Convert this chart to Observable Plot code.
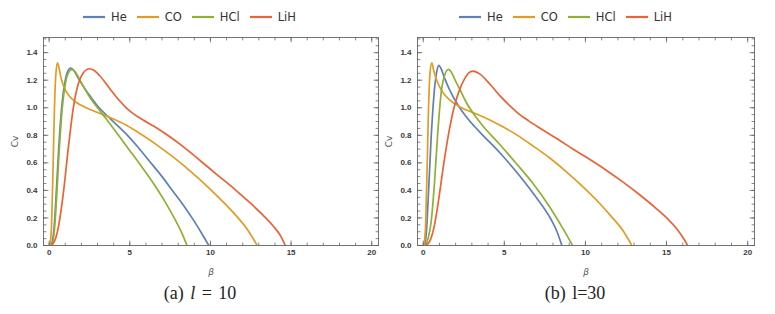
<!DOCTYPE html>
<html><head><meta charset="utf-8">
<script src="https://cdn.jsdelivr.net/npm/d3@7"></script>
<script src="https://cdn.jsdelivr.net/npm/@observablehq/plot@0.6"></script>
<style>
body{margin:0;background:#fff;}
#fig{position:relative;width:775px;height:314px;overflow:hidden;background:#fff;}
.panel{position:absolute;top:30px;}
.legend{position:absolute;top:9px;display:flex;align-items:center;font-family:"DejaVu Sans";font-size:11.5px;color:#333;line-height:16px;}
.legend .item{display:flex;align-items:center;margin-right:10px;}
.legend svg{margin-right:6px;}
.caption{position:absolute;top:283px;font-family:"Liberation Serif";font-size:18px;color:#222;transform:translateX(-50%);white-space:nowrap;word-spacing:2px;}
g[aria-label="x-axis label"] text{font-style:italic;font-size:9px;fill:#555;font-weight:normal;font-family:"DejaVu Sans";}
g[aria-label="y-axis label"] text{font-size:9px;fill:#555;font-weight:normal;font-family:"DejaVu Sans";}
</style></head>
<body><div id="fig"></div>
<script>
// ---- data ----
const series = ["He", "CO", "HCl", "LiH"];
const colors = ["#5E81B5", "#E19C24", "#8FB032", "#EB6235"];
const captions = [["(a) ", "l", " = 10"], ["(b) ", "", "l=30"]];

// panel (a) l = 10 : [beta, Cv]
const he10 = [[0.15,0],[0.3,0.12],[0.45,0.4],[0.6,0.72],[0.8,1.03],[1.0,1.2],[1.15,1.265],[1.33,1.287],[1.5,1.275],[1.8,1.215],[2.2,1.14],[2.6,1.075],[3.1,1.0],[3.75,0.925],[4.76,0.812],[5.5,0.715],[6.2,0.615],[7.0,0.5],[7.7,0.39],[8.4,0.28],[9.0,0.175],[9.5,0.08],[9.9,0]];
const co10 = [[0.05,0],[0.15,0.15],[0.25,0.6],[0.33,1.0],[0.42,1.25],[0.52,1.326],[0.62,1.285],[0.73,1.22],[0.94,1.145],[1.25,1.085],[1.67,1.04],[2.29,1.0],[3.02,0.965],[3.75,0.93],[4.79,0.873],[5.8,0.80],[6.8,0.72],[7.8,0.632],[8.8,0.535],[9.8,0.43],[10.8,0.315],[11.6,0.215],[12.3,0.115],[12.6,0.06],[12.9,0]];
const hcl10 = [[0.15,0],[0.3,0.08],[0.45,0.32],[0.6,0.64],[0.8,0.98],[1.0,1.17],[1.2,1.255],[1.42,1.278],[1.6,1.262],[2.0,1.18],[2.5,1.08],[3.0,1.0],[3.5,0.925],[4.0,0.848],[4.9,0.705],[5.75,0.57],[6.5,0.445],[7.2,0.315],[7.8,0.19],[8.25,0.085],[8.55,0]];
const lih10 = [[0.15,0],[0.4,0.05],[0.6,0.15],[0.88,0.38],[1.2,0.72],[1.5,1.0],[1.8,1.17],[2.1,1.25],[2.5,1.283],[2.8,1.27],[3.125,1.234],[3.75,1.14],[4.3,1.06],[4.8,0.998],[5.3,0.95],[5.8,0.913],[6.5,0.865],[7.35,0.80],[8.33,0.716],[9.43,0.61],[10.4,0.515],[11.49,0.41],[12.5,0.305],[13.3,0.215],[13.9,0.14],[14.35,0.07],[14.64,0]];

// panel (b) l = 30 : [beta, Cv]
const he30 = [[0.1,0],[0.2,0.1],[0.29,0.29],[0.49,0.78],[0.7,1.14],[0.85,1.27],[0.97,1.307],[1.1,1.285],[1.32,1.215],[1.63,1.13],[2.14,1.02],[2.65,0.935],[3.2,0.86],[3.68,0.80],[4.71,0.675],[5.74,0.535],[6.8,0.375],[7.9,0.185],[8.25,0.1],[8.55,0]];
const co30 = [[0.05,0],[0.15,0.15],[0.25,0.6],[0.33,1.0],[0.42,1.25],[0.53,1.326],[0.65,1.27],[0.8,1.21],[1.11,1.13],[1.63,1.058],[2.24,1.008],[3.07,0.965],[3.68,0.935],[4.71,0.875],[5.74,0.805],[6.8,0.72],[7.8,0.635],[8.83,0.535],[9.9,0.42],[10.88,0.305],[11.6,0.21],[12.3,0.11],[12.86,0]];
const hcl30 = [[0.15,0],[0.3,0.05],[0.49,0.17],[0.7,0.46],[0.9,0.82],[1.11,1.11],[1.32,1.234],[1.56,1.278],[1.75,1.255],[1.93,1.21],[2.24,1.138],[2.65,1.04],[3.17,0.945],[3.68,0.868],[4.71,0.735],[5.74,0.595],[6.77,0.45],[7.8,0.28],[8.4,0.165],[8.85,0.075],[9.2,0]];
const lih30 = [[0.15,0],[0.4,0.03],[0.7,0.15],[0.95,0.33],[1.25,0.58],[1.55,0.8],[1.9,1.0],[2.24,1.13],[2.55,1.21],[2.86,1.258],[3.07,1.266],[3.48,1.246],[4.09,1.174],[4.71,1.09],[5.33,1.015],[5.8,0.965],[6.5,0.905],[7.18,0.853],[8.21,0.778],[9.3,0.695],[10.3,0.622],[11.3,0.545],[12.3,0.462],[13.3,0.372],[14.3,0.275],[15.1,0.19],[15.6,0.125],[16.0,0.06],[16.3,0]];

const xMajor = [0, 5, 10, 15, 20];
const yMajor = [0, 0.2, 0.4, 0.6, 0.8, 1.0, 1.2, 1.4];
const xMinor = d3.range(0, 21, 1);
const yMinor = d3.range(0, 31, 1).map(i => i * 0.05);
const xDomain = [-0.35, 20.42];
const yDomain = [0, 1.51];

// ---- build ----
const frameColor = "#666";
const tickShape = {draw(ctx, l) { ctx.moveTo(0, 0); ctx.lineTo(0, -l); }};
const tk = {shape: tickShape, anchor: "start", stroke: frameColor, strokeWidth: 0.8};

function table(sets) {
  return sets.flatMap((pts, i) => pts.map(([b, c]) => ({series: series[i], beta: b, cv: c})));
}

function panel(rows, width, frameW) {
  return Plot.plot({
    width, height: 250,
    marginTop: 7, marginBottom: 35, marginLeft: 43, marginRight: width - 43 - frameW,
    style: {fontFamily: "Liberation Sans", fontSize: "8px", fontWeight: "bold", background: "transparent", color: "#3a3a3a"},
    x: {domain: xDomain},
    y: {domain: yDomain},
    color: {domain: series, range: colors},
    marks: [
      Plot.line(rows, {x: "beta", y: "cv", z: "series", stroke: "series", curve: "monotone-x", strokeWidth: 1.7, clip: true}),
      Plot.frame({stroke: frameColor, strokeWidth: 0.9}),
      Plot.vector(xMinor, {x: d => d, frameAnchor: "bottom", rotate: 0, length: 2.5, ...tk}),
      Plot.vector(xMajor, {x: d => d, frameAnchor: "bottom", rotate: 0, length: 4.5, ...tk}),
      Plot.vector(xMinor, {x: d => d, frameAnchor: "top", rotate: 180, length: 2.5, ...tk}),
      Plot.vector(xMajor, {x: d => d, frameAnchor: "top", rotate: 180, length: 4.5, ...tk}),
      Plot.vector(yMinor, {y: d => d, frameAnchor: "left", rotate: 90, length: 2.5, ...tk}),
      Plot.vector(yMajor, {y: d => d, frameAnchor: "left", rotate: 90, length: 4.5, ...tk}),
      Plot.vector(yMinor, {y: d => d, frameAnchor: "right", rotate: -90, length: 2.5, ...tk}),
      Plot.vector(yMajor, {y: d => d, frameAnchor: "right", rotate: -90, length: 4.5, ...tk}),
      Plot.axisX({ticks: xMajor, tickSize: 0, tickPadding: 4, tickFormat: d3.format("d"), label: "β", labelAnchor: "center", labelOffset: 29, labelArrow: "none"}),
      Plot.axisY({ticks: yMajor, tickSize: 0, tickPadding: 6, tickFormat: d3.format(".1f"), label: "Cv", labelAnchor: "center", labelOffset: 32, labelArrow: "none"})
    ]
  });
}

function legend(left) {
  const div = document.createElement("div");
  div.className = "legend";
  div.style.left = left + "px";
  series.forEach((s, i) => {
    const it = document.createElement("div");
    it.className = "item";
    it.innerHTML = `<svg width="22" height="4"><line x1="0" y1="2" x2="22" y2="2" stroke="${colors[i]}" stroke-width="2.2"/></svg><span>${s}</span>`;
    div.appendChild(it);
  });
  return div;
}

function caption(parts, cx) {
  const div = document.createElement("div");
  div.className = "caption";
  div.style.left = cx + "px";
  div.innerHTML = parts[0] + (parts[1] ? `<i>${parts[1]}</i>` : "") + parts[2];
  return div;
}

const fig = document.getElementById("fig");
const panels = [
  {rows: table([he10, co10, hcl10, lih10]), left: 0, width: 385, frameW: 335, legendX: 83, capX: 200},
  {rows: table([he30, co30, hcl30, lih30]), left: 374, width: 388, frameW: 337, legendX: 459, capX: 575}
];
panels.forEach((p, i) => {
  const wrap = document.createElement("div");
  wrap.className = "panel";
  wrap.style.left = p.left + "px";
  wrap.appendChild(panel(p.rows, p.width, p.frameW));
  fig.appendChild(wrap);
  fig.appendChild(legend(p.legendX));
  fig.appendChild(caption(captions[i], p.capX));
});
</script></body></html>
